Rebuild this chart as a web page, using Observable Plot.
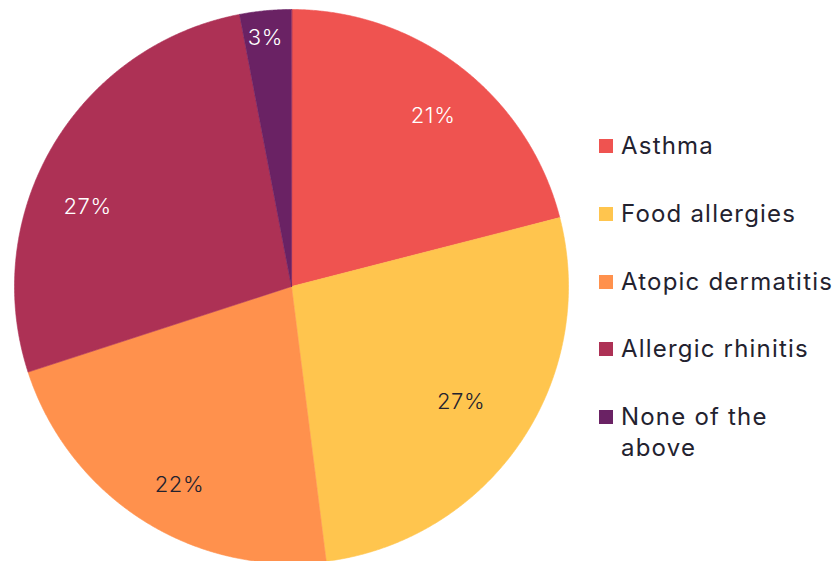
<!DOCTYPE html>
<html>
<head>
<meta charset="utf-8">
<script src="https://cdn.jsdelivr.net/npm/d3@7"></script>
<script src="https://cdn.jsdelivr.net/npm/@observablehq/plot@0.6"></script>
<style>
  html, body { margin: 0; padding: 0; background: #fff; }
  #wrap { position: relative; width: 839px; height: 561px; overflow: hidden; }
  #chart text { letter-spacing: 0.6px; }
  #legend { position: absolute; left: 599px; top: 0; font-family: Inter, "Noto Sans", sans-serif; font-weight: 400; font-size: 24px; letter-spacing: 1.2px; color: #23222f; }
  .item { position: absolute; left: 0; width: 240px; display: flex; align-items: flex-start; line-height: 31px; }
  .sw { width: 14px; height: 14px; margin-top: 9px; margin-right: 8px; flex: none; }
</style>
</head>
<body>
<div id="wrap"><div id="chart"></div><div id="legend"></div></div>
<script>
const categories = ["Asthma", "Food allergies", "Atopic dermatitis", "Allergic rhinitis", "None of the above"];
const values = [21, 27, 22, 27, 3];
const labels = ["21%", "27%", "22%", "27%", "3%"];
const colors = ["#ef5350", "#ffc54e", "#ff914d", "#ad3155", "#6a2264"];
const labelColors = ["#ffffff", "#23222f", "#23222f", "#ffffff", "#ffffff"];
// label placement (fraction of radius, angular shift in degrees from slice middle)
const labelRadius = [0.80, 0.741, 0.824, 0.791, 0.904];
const labelShift = [1.9, 0.1, -3.0, -9.2, -0.6];

const pie = d3.pie().sort(null).value(d => d.value)(categories.map((name, i) => ({name, value: values[i], i})));

// polygon outline of each slice (angles from 12 o'clock, clockwise)
const outline = [];
for (const s of pie) {
  outline.push({name: s.data.name, x: 0, y: 0});
  const n = Math.max(4, Math.ceil((s.endAngle - s.startAngle) / 0.005));
  for (let k = 0; k <= n; k++) {
    const a = s.startAngle + (s.endAngle - s.startAngle) * k / n;
    outline.push({name: s.data.name, x: Math.sin(a), y: Math.cos(a)});
  }
}
const labelPts = pie.map(s => {
  const i = s.data.i;
  const a = (s.startAngle + s.endAngle) / 2 + labelShift[i] * Math.PI / 180;
  const r = labelRadius[i];
  return {text: labels[i], x: r * Math.sin(a), y: r * Math.cos(a), c: labelColors[i]};
});

const chart = Plot.plot({
  width: 839,
  height: 561,
  x: {domain: [-1, 1], range: [14, 568], axis: null},
  y: {domain: [-1, 1], range: [563, 9], axis: null},
  color: {domain: categories, range: colors},
  style: {background: "transparent", overflow: "visible"},
  marks: [
    Plot.line(outline, {x: "x", y: "y", z: "name", fill: "name", stroke: "name", strokeWidth: 0.6, curve: "linear-closed"}),
    Plot.text(labelPts, {x: "x", y: "y", text: "text", fill: "c", fontSize: 22, fontWeight: 300, fontFamily: "Inter, 'Noto Sans', sans-serif"})
  ]
});
document.getElementById("chart").appendChild(chart);

const legend = document.getElementById("legend");
const tops = [130, 198, 266, 333, 401];
categories.forEach((name, i) => {
  const it = document.createElement("div");
  it.className = "item";
  it.style.top = tops[i] + "px";
  const sw = document.createElement("div");
  sw.className = "sw";
  sw.style.background = colors[i];
  const t = document.createElement("div");
  if (name === "None of the above") { t.innerHTML = "None of the<br>above"; } else { t.textContent = name; }
  it.appendChild(sw); it.appendChild(t);
  legend.appendChild(it);
});
</script>
</body>
</html>
